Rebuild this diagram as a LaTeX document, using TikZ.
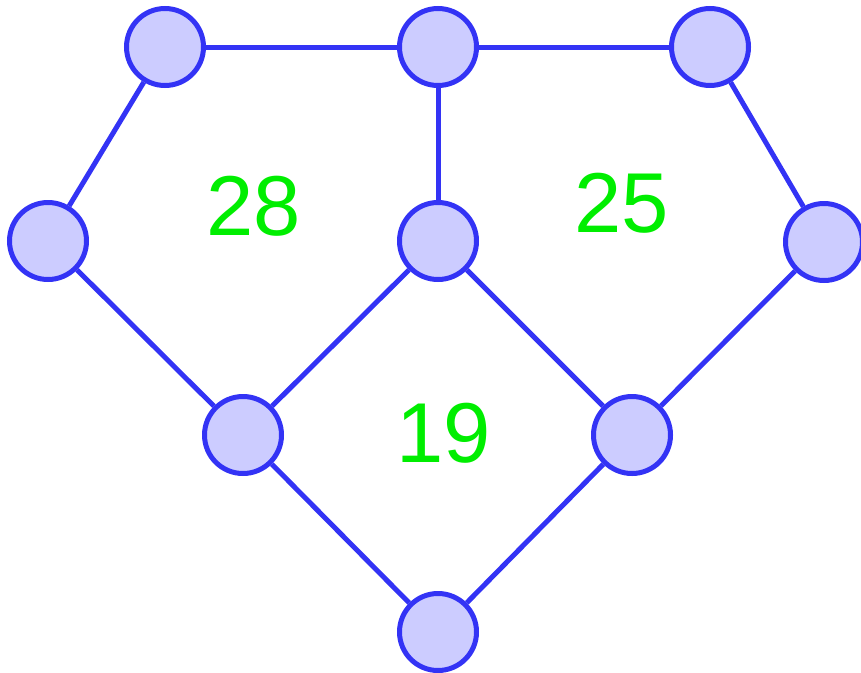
\documentclass[tikz,border=0pt]{standalone}
\usepackage{fontspec}
\setmainfont{Liberation Sans}
\definecolor{edgeblue}{RGB}{51,51,245}
\definecolor{nodefill}{RGB}{204,204,255}
\definecolor{labgreen}{RGB}{0,238,0}
\tikzset{
  vert/.style={circle, draw=edgeblue, fill=nodefill, line width=5pt, minimum size=77pt, inner sep=0pt},
  conn/.style={draw=edgeblue, line width=5pt},
  facelab/.style={text=labgreen, font=\fontsize{85}{85}\selectfont, inner sep=0pt}
}
\begin{document}
\begin{tikzpicture}[x=1pt,y=-1pt]
\useasboundingbox (0,0) rectangle (861,672);
\node[facelab] (l28) at (254,206) {28};
\node[facelab] (l25) at (622,203) {25};
\node[facelab] (l19) at (444,433) {19};
\node[vert] (A) at (165,47) {};
\node[vert] (B) at (438,47) {};
\node[vert] (C) at (710,47) {};
\node[vert] (D) at (48,241) {};
\node[vert] (E) at (438,241) {};
\node[vert] (F) at (824,242) {};
\node[vert] (G) at (243,435) {};
\node[vert] (H) at (632,435) {};
\node[vert] (I) at (438,632) {};
\begin{scope}[on background layer/.try]
\end{scope}
\path[conn] (A) -- (B);
\path[conn] (B) -- (C);
\path[conn] (A) -- (D);
\path[conn] (B) -- (E);
\path[conn] (C) -- (F);
\path[conn] (D) -- (G);
\path[conn] (E) -- (G);
\path[conn] (E) -- (H);
\path[conn] (F) -- (H);
\path[conn] (G) -- (I);
\path[conn] (H) -- (I);
\end{tikzpicture}
\end{document}
